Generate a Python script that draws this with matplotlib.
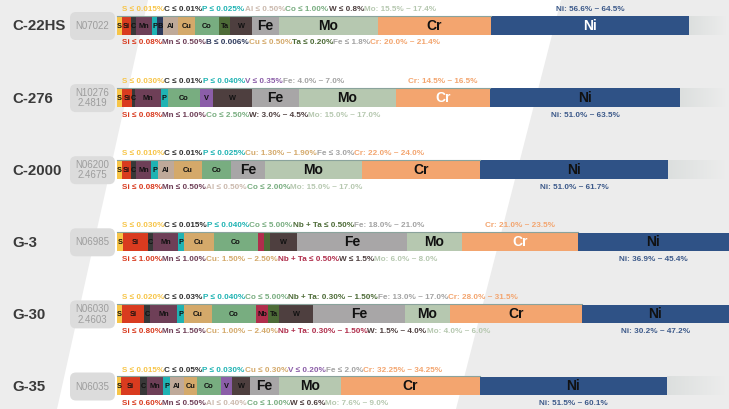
import numpy as np
import matplotlib
matplotlib.use('Agg')
import matplotlib.pyplot as plt
from matplotlib.patches import FancyBboxPatch
from matplotlib.colors import LinearSegmentedColormap

plt.rcParams['font.family'] = ['Liberation Sans', 'DejaVu Sans']

alloys = ['C-22HS', 'C-276', 'C-2000', 'G-3', 'G-30', 'G-35']
uns_codes = ['N07022', 'N10276\n2.4819', 'N06200\n2.4675', 'N06985', 'N06030\n2.4603', 'N06035']

# visual length of each element block
c22hs_elements = ['S', 'Si', 'C', 'Mn', 'P', 'B', 'Al', 'Cu', 'Co', 'Ta', 'W', 'Fe', 'Mo', 'Cr', 'Ni']
c22hs_widths = [5, 9, 5, 16, 5.5, 5.5, 15, 17, 24, 11, 22, 27, 99, 113, 198]
c276_elements = ['S', 'Si', 'C', 'Mn', 'P', 'Co', 'V', 'W', 'Fe', 'Mo', 'Cr', 'Ni']
c276_widths = [5, 9.7, 3.3, 26, 6.7, 32.3, 13, 39, 47, 97, 94, 190]
c2000_elements = ['S', 'Si', 'C', 'Mn', 'P', 'Al', 'Cu', 'Co', 'Fe', 'Mo', 'Cr', 'Ni']
c2000_widths = [5, 9, 5, 15, 7, 16, 28, 29, 34, 97, 118, 188]
g3_elements = ['S', 'Si', 'C', 'Mn', 'P', 'Cu', 'Co', 'Nb', 'Ta', 'W', 'Fe', 'Mo', 'Cr', 'Ni']
g3_widths = [6, 25, 5, 25, 6, 30, 44, 6, 6, 27, 110, 55, 116, 151]
g30_elements = ['S', 'Si', 'C', 'Mn', 'P', 'Cu', 'Co', 'Nb', 'Ta', 'W', 'Fe', 'Mo', 'Cr', 'Ni']
g30_widths = [5, 22, 6, 27, 7, 28, 44, 12, 11, 34, 92, 45, 132, 147]
g35_elements = ['S', 'Si', 'C', 'Mn', 'P', 'Al', 'Cu', 'Co', 'V', 'W', 'Fe', 'Mo', 'Cr', 'Ni']
g35_widths = [4, 19, 7, 16, 7, 14, 13, 24, 11, 18, 29, 62, 139, 187]

# composition notes: (element for colour, text)
c22hs_top = [('S', 'S ≤ 0.015%'), ('C', 'C ≤ 0.01%'), ('P', 'P ≤ 0.025%'), ('Al', 'Al ≤ 0.50%'),
             ('Co', 'Co ≤ 1.00%'), ('W', 'W ≤ 0.8%'), ('Mo', 'Mo: 15.5% ~ 17.4%')]
c22hs_bottom = [('Si', 'Si ≤ 0.08%'), ('Mn', 'Mn ≤ 0.50%'), ('B', 'B ≤ 0.006%'), ('Cu', 'Cu ≤ 0.50%'),
                ('Ta', 'Ta ≤ 0.20%'), ('Fe', 'Fe ≤ 1.8%'), ('Cr', 'Cr: 20.0% ~ 21.4%')]
c22hs_centered = [('Ni', 'Ni: 56.6% ~ 64.5%', 'top')]

c276_top = [('S', 'S ≤ 0.030%'), ('C', 'C ≤ 0.01%'), ('P', 'P ≤ 0.040%'), ('V', 'V ≤ 0.35%'),
            ('Fe', 'Fe: 4.0% ~ 7.0%')]
c276_bottom = [('Si', 'Si ≤ 0.08%'), ('Mn', 'Mn ≤ 1.00%'), ('Co', 'Co ≤ 2.50%'), ('W', 'W: 3.0% ~ 4.5%'),
               ('Mo', 'Mo: 15.0% ~ 17.0%')]
c276_centered = [('Cr', 'Cr: 14.5% ~ 16.5%', 'top'), ('Ni', 'Ni: 51.0% ~ 63.5%', 'bottom')]

c2000_top = [('S', 'S ≤ 0.010%'), ('C', 'C ≤ 0.01%'), ('P', 'P ≤ 0.025%'), ('Cu', 'Cu: 1.30% ~ 1.90%'),
             ('Fe', 'Fe ≤ 3.0%'), ('Cr', 'Cr: 22.0% ~ 24.0%')]
c2000_bottom = [('Si', 'Si ≤ 0.08%'), ('Mn', 'Mn ≤ 0.50%'), ('Al', 'Al ≤ 0.50%'), ('Co', 'Co ≤ 2.00%'),
                ('Mo', 'Mo: 15.0% ~ 17.0%')]
c2000_centered = [('Ni', 'Ni: 51.0% ~ 61.7%', 'bottom')]

g3_top = [('S', 'S ≤ 0.030%'), ('C', 'C ≤ 0.015%'), ('P', 'P ≤ 0.040%'), ('Co', 'Co ≤ 5.00%'),
          ('Ta', 'Nb + Ta ≤ 0.50%'), ('Fe', 'Fe: 18.0% ~ 21.0%')]
g3_bottom = [('Si', 'Si ≤ 1.00%'), ('Mn', 'Mn ≤ 1.00%'), ('Cu', 'Cu: 1.50% ~ 2.50%'), ('Nb', 'Nb + Ta ≤ 0.50%'),
             ('W', 'W ≤ 1.5%'), ('Mo', 'Mo: 6.0% ~ 8.0%')]
g3_centered = [('Cr', 'Cr: 21.0% ~ 23.5%', 'top'), ('Ni', 'Ni: 36.9% ~ 45.4%', 'bottom')]

g30_top = [('S', 'S ≤ 0.020%'), ('C', 'C ≤ 0.03%'), ('P', 'P ≤ 0.040%'), ('Co', 'Co ≤ 5.00%'),
           ('Ta', 'Nb + Ta: 0.30% ~ 1.50%'), ('Fe', 'Fe: 13.0% ~ 17.0%'), ('Cr', 'Cr: 28.0% ~ 31.5%')]
g30_bottom = [('Si', 'Si ≤ 0.80%'), ('Mn', 'Mn ≤ 1.50%'), ('Cu', 'Cu: 1.00% ~ 2.40%'),
              ('Nb', 'Nb + Ta: 0.30% ~ 1.50%'), ('W', 'W: 1.5% ~ 4.0%'), ('Mo', 'Mo: 4.0% ~ 6.0%')]
g30_centered = [('Ni', 'Ni: 30.2% ~ 47.2%', 'bottom')]

g35_top = [('S', 'S ≤ 0.015%'), ('C', 'C ≤ 0.05%'), ('P', 'P ≤ 0.030%'), ('Cu', 'Cu ≤ 0.30%'),
           ('V', 'V ≤ 0.20%'), ('Fe', 'Fe ≤ 2.0%'), ('Cr', 'Cr: 32.25% ~ 34.25%')]
g35_bottom = [('Si', 'Si ≤ 0.60%'), ('Mn', 'Mn ≤ 0.50%'), ('Al', 'Al ≤ 0.40%'), ('Co', 'Co ≤ 1.00%'),
              ('W', 'W ≤ 0.6%'), ('Mo', 'Mo: 7.6% ~ 9.0%')]
g35_centered = [('Ni', 'Ni: 51.5% ~ 60.1%', 'bottom')]

# block labels drawn in white / left out
white_labels = [['Ni'], ['Cr'], [], ['Cr'], [], []]
hidden_labels = [[], [], [], ['Nb', 'Ta'], [], []]

colors = {'S': '#f7c548', 'Si': '#d93b1f', 'C': '#383838', 'Mn': '#6e3f57', 'P': '#1fb3b3',
          'B': '#2e3a5c', 'Al': '#bfa999', 'Cu': '#d4a96a', 'Co': '#78ad80', 'Ta': '#4d6b37',
          'W': '#4e3f3f', 'Fe': '#a8a6a7', 'Mo': '#b6c8b0', 'Cr': '#f3a56f', 'Ni': '#2f5286',
          'V': '#8b5ea8', 'Nb': '#b02e4c'}
note_colors = dict(colors, Al='#cbb9ad', Fe='#a3a3a3', Ni='#3d5a8a', C='#303030')
big = ['Fe', 'Mo', 'Cr', 'Ni']

rows = [
    (c22hs_elements, c22hs_widths, c22hs_top, c22hs_bottom, c22hs_centered),
    (c276_elements, c276_widths, c276_top, c276_bottom, c276_centered),
    (c2000_elements, c2000_widths, c2000_top, c2000_bottom, c2000_centered),
    (g3_elements, g3_widths, g3_top, g3_bottom, g3_centered),
    (g30_elements, g30_widths, g30_top, g30_bottom, g30_centered),
    (g35_elements, g35_widths, g35_top, g35_bottom, g35_centered),
]

W, H = 729, 409
fig = plt.figure(figsize=(W / 100, H / 100), dpi=100)
ax = fig.add_axes([0, 0, 1, 1])
ax.set_xlim(0, W)
ax.set_ylim(H, 0)
ax.axis('off')

# background shapes
ax.fill([0, 148, 57, 0], [0, 0, H, H], color='#ededed', lw=0, zorder=0)
ax.fill([561, W, W, 456], [0, 0, H, H], color='#ececec', lw=0, zorder=0)

renderer = fig.canvas.get_renderer()
inv = ax.transData.inverted()
tail_cmap = LinearSegmentedColormap.from_list('tail', ['#dcdfde', '#ededed'])
grad = np.linspace(0, 1, 100).reshape(1, -1)

bar_x0 = 117
bar_h = 18.5
note_size = 5.85


def write_run(x, y, items):
    for el, s in items:
        t = ax.text(x, y, s, color=note_colors[el], fontsize=note_size, fontweight='bold',
                    ha='left', va='center', zorder=5)
        bb = t.get_window_extent(renderer)
        x = inv.transform((bb.x1, bb.y0))[0]


for i, (elems, widths, top, bottom, centered) in enumerate(rows):
    yc = 25.5 + i * 72.1
    widths = np.array(widths, dtype=float)
    lefts = bar_x0 + np.concatenate([[0], np.cumsum(widths)[:-1]])
    ax.barh(yc, widths, left=lefts, height=bar_h, color=[colors[e] for e in elems],
            linewidth=0, zorder=3)
    ni_end = lefts[-1] + widths[-1]
    if ni_end < W:
        ax.imshow(grad, extent=[ni_end, W, yc + bar_h / 2, yc - bar_h / 2], cmap=tail_cmap,
                  aspect='auto', zorder=2)
    ax.plot([bar_x0, lefts[-1]], [yc - bar_h / 2 - 0.4] * 2, color='#8aa39c', lw=0.8, zorder=4)

    for e, l, w in zip(elems, lefts, widths):
        if e in hidden_labels[i]:
            continue
        tc = 'white' if e in white_labels[i] else '#111111'
        fs = 10 if e in big else 5.3
        ax.text(l + w / 2, yc + 0.5, e, ha='center', va='center', fontsize=fs,
                fontweight='bold', color=tc, zorder=5)

    write_run(bar_x0 + 5, yc - 16, top)
    write_run(bar_x0 + 5, yc + 17.5, bottom)
    for el, s, where in centered:
        k = elems.index(el)
        y = yc - 16 if where == 'top' else yc + 17.5
        ax.text(lefts[k] + widths[k] / 2, y, s, color=note_colors[el], fontsize=note_size,
                fontweight='bold', ha='center', va='center', zorder=5)

    # alloy name and UNS box
    ax.text(12, yc + 1, alloys[i], fontsize=10.8, fontweight='bold', color='#3a3a3a',
            ha='left', va='center')
    ax.add_patch(FancyBboxPatch((70, yc + 0.5 - 14), 45, 28,
                                boxstyle='round,pad=0,rounding_size=6',
                                fc='#dcdcdc', ec='none', zorder=3))
    ax.text(92.5, yc + 0.5, uns_codes[i], fontsize=7, color='#9d9d9d', ha='center',
            va='center', linespacing=1.05, zorder=5)

ax.set_xlim(0, W)
ax.set_ylim(H, 0)
fig.savefig('out.png', dpi=100)
